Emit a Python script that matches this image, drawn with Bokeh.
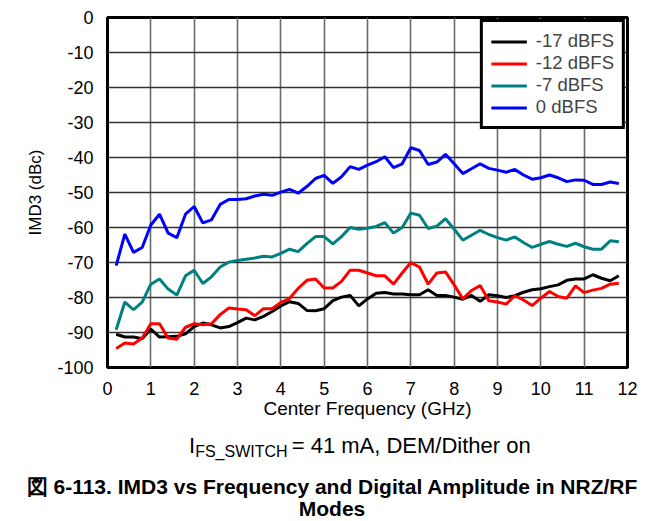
from bokeh.plotting import figure
from bokeh.layouts import column
from bokeh.models import Range1d, FixedTicker, Legend, LegendItem, Div
from bokeh.embed import file_html
from bokeh.resources import INLINE

freq_ghz = [0.2, 0.4, 0.6, 0.8, 1.0, 1.2, 1.4, 1.6, 1.8, 2.0,
            2.2, 2.4, 2.6, 2.8, 3.0, 3.2, 3.4, 3.6, 3.8, 4.0,
            4.2, 4.4, 4.6, 4.8, 5.0, 5.2, 5.4, 5.6, 5.8, 6.0,
            6.2, 6.4, 6.6, 6.8, 7.0, 7.2, 7.4, 7.6, 7.8, 8.0,
            8.2, 8.4, 8.6, 8.8, 9.0, 9.2, 9.4, 9.6, 9.8, 10.0,
            10.2, 10.4, 10.6, 10.8, 11.0, 11.2, 11.4, 11.6, 11.8]

imd3_m17 = [-90.5, -91.3, -91.3, -91.8, -89.0, -91.3, -91.2, -91.1, -90.4, -88.3,
            -87.3, -87.8, -88.7, -88.3, -87.2, -85.9, -86.4, -85.4, -84.0, -82.4,
            -81.2, -81.7, -83.7, -83.8, -83.2, -80.9, -79.9, -79.4, -82.4, -80.4,
            -78.8, -78.6, -79.0, -79.0, -79.2, -79.2, -77.8, -79.4, -79.4, -79.9,
            -80.5, -79.4, -81.1, -79.2, -79.5, -80.0, -79.5, -78.5, -77.8, -77.5,
            -76.9, -76.4, -75.1, -74.7, -74.7, -73.5, -74.5, -75.2, -73.8]

imd3_m12 = [-94.6, -93.0, -93.3, -91.6, -87.5, -87.5, -91.6, -91.9, -88.5, -87.5,
            -87.8, -87.5, -84.9, -83.0, -83.3, -83.5, -85.2, -83.2, -83.2, -81.4,
            -80.3, -77.4, -75.1, -74.7, -77.3, -77.3, -75.4, -72.2, -72.2, -73.0,
            -73.8, -73.8, -76.2, -73.0, -70.0, -71.3, -76.2, -73.0, -72.7, -76.4,
            -80.4, -78.0, -76.6, -80.9, -81.3, -81.9, -79.5, -80.7, -82.3, -80.2,
            -78.3, -79.7, -80.2, -76.7, -78.6, -77.9, -77.4, -76.2, -75.9]

imd3_m7 = [-89.2, -81.3, -83.5, -81.3, -76.2, -74.7, -77.6, -79.3, -73.8, -72.2,
           -76.0, -74.1, -71.3, -69.9, -69.4, -69.1, -68.7, -68.2, -68.4, -67.4,
           -66.2, -66.9, -64.6, -62.6, -62.6, -64.7, -62.6, -60.0, -60.5, -60.2,
           -59.7, -58.6, -61.6, -60.0, -55.9, -56.5, -60.3, -59.6, -57.5, -60.5,
           -63.6, -62.2, -60.8, -62.0, -62.9, -63.6, -62.7, -64.3, -65.7, -64.8,
           -64.0, -64.8, -65.4, -64.5, -65.5, -66.2, -66.2, -63.8, -64.1]

imd3_0 = [-70.9, -61.9, -67.1, -65.7, -59.3, -56.2, -61.6, -62.9, -56.2, -54.0,
          -58.7, -57.8, -53.4, -52.0, -52.0, -51.8, -51.0, -50.5, -50.8, -49.9,
          -49.1, -50.2, -48.3, -46.0, -45.1, -47.4, -45.5, -42.6, -43.4, -42.2,
          -41.2, -39.8, -42.9, -41.8, -37.2, -38.0, -42.0, -41.3, -39.1, -41.8,
          -44.6, -43.2, -41.8, -43.1, -43.6, -44.2, -43.4, -45.0, -46.2, -45.8,
          -45.0, -45.8, -46.9, -46.4, -46.5, -47.7, -47.7, -47.0, -47.4]

series_names = ["-17 dBFS", "-12 dBFS", "-7 dBFS", "0 dBFS"]
series_values = [imd3_m17, imd3_m12, imd3_m7, imd3_0]
series_colors = ["#000000", "#FF0000", "#008080", "#0000FF"]

x_ticks = [0, 1, 2, 3, 4, 5, 6, 7, 8, 9, 10, 11, 12]
y_ticks = [0, -10, -20, -30, -40, -50, -60, -70, -80, -90, -100]

subtitle_main = "I"
subtitle_sub = "FS_SWITCH"
subtitle_rest = "= 41 mA, DEM/Dither on"
caption_line1 = "図 6-113. IMD3 vs Frequency and Digital Amplitude in NRZ/RF"
caption_line2 = "Modes"

FONT = "Liberation Sans"
W = 666
CHART_H = 425

p = figure(width=W, height=CHART_H, output_backend="svg", toolbar_location=None,
           x_range=Range1d(0, 12), y_range=Range1d(-100, 0),
           min_border_left=107, min_border_right=39, min_border_top=17,
           min_border_bottom=CHART_H - 17 - 350)
p.background_fill_color = "white"
p.border_fill_color = "white"
p.outline_line_color = "black"
p.outline_line_width = 3
p.outline_line_alpha = 1.0

p.xaxis.ticker = FixedTicker(ticks=x_ticks)
p.yaxis.ticker = FixedTicker(ticks=y_ticks)
p.xaxis.major_label_overrides = {t: str(t) for t in x_ticks}
p.yaxis.major_label_overrides = {t: str(t) for t in y_ticks}
for ax in (p.xaxis[0], p.yaxis[0]):
    ax.axis_line_color = None
    ax.major_tick_line_color = None
    ax.minor_tick_line_color = None
    ax.major_label_text_font = FONT
    ax.major_label_text_font_size = "18px"
    ax.major_label_text_color = "black"
    ax.axis_label_text_font = FONT
    ax.axis_label_text_font_style = "normal"
    ax.axis_label_text_color = "black"
p.xaxis.major_label_standoff = 8
p.yaxis.major_label_standoff = 8
p.xaxis.axis_label = "Center Frequency (GHz)"
p.xaxis.axis_label_text_font_size = "19px"
p.xaxis.axis_label_standoff = 0
p.yaxis.axis_label = "IMD3 (dBc)"
p.yaxis.axis_label_text_font_size = "17px"
p.yaxis.axis_label_standoff = 9

p.xgrid.grid_line_color = "#6a6a6a"
p.xgrid.grid_line_width = 1.6
p.ygrid.grid_line_color = "#333333"
p.ygrid.grid_line_width = 1.4

items = []
for name, vals, col in zip(series_names, series_values, series_colors):
    r = p.line(freq_ghz, vals, line_color=col, line_width=3)
    items.append(LegendItem(label=name, renderers=[r]))

legend = Legend(items=items, location="top_right")
legend.margin = 2
legend.padding = 8
legend.spacing = 0
legend.glyph_width = 36
legend.glyph_height = 21
legend.label_height = 21
legend.label_standoff = 9
legend.label_text_font = FONT
legend.label_text_font_size = "18.5px"
legend.border_line_color = "black"
legend.border_line_width = 3
legend.border_line_alpha = 1.0
legend.background_fill_color = "white"
legend.background_fill_alpha = 1.0
p.add_layout(legend, "center")

# caption block below the chart (page pixels inside a 666 x 96 box)
caption_html = (
    f'<div style="position:relative;width:{W}px;height:96px;font-family:\'{FONT}\';color:black;">'
    f'<div style="position:absolute;left:189px;top:9.8px;font-size:22px;line-height:1;white-space:nowrap;">'
    f'{subtitle_main}<span style="position:relative;top:4.5px;font-size:16px;margin-right:-2px;">{subtitle_sub}</span> {subtitle_rest}</div>'
    f'<div style="position:absolute;left:0;width:664px;top:51.2px;font-size:21px;font-weight:bold;'
    f'line-height:1;text-align:center;white-space:nowrap;">{caption_line1}</div>'
    f'<div style="position:absolute;left:0;width:664px;top:73.2px;font-size:21px;font-weight:bold;'
    f'line-height:1;text-align:center;white-space:nowrap;">{caption_line2}</div>'
    f'</div>'
)
caption = Div(text=caption_html, width=W, height=521 - CHART_H, margin=0)

layout = column(p, caption, spacing=0)
open("out.html", "w").write(file_html(layout, INLINE))
